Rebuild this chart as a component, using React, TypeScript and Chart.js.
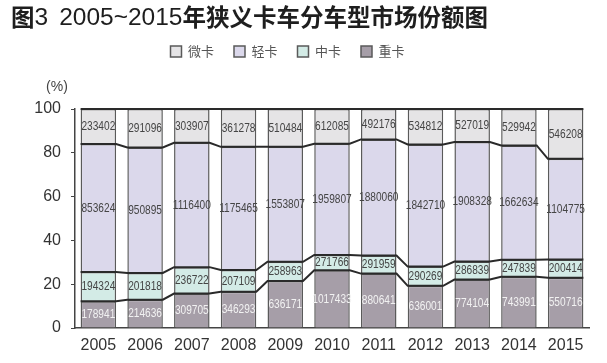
import React, { useEffect, useRef } from "react";
import { Chart, registerables } from "chart.js";
Chart.register(...registerables);

const years = ["2005", "2006", "2007", "2008", "2009", "2010", "2011", "2012", "2013", "2014", "2015"];
const micro = [233402, 291096, 303907, 361278, 510484, 612085, 492176, 534812, 527019, 529942, 546208];
const light = [853624, 950895, 1116400, 1175465, 1553807, 1959807, 1880060, 1842710, 1908328, 1662634, 1104775];
const medium = [194324, 201818, 236722, 207109, 258963, 271766, 291959, 290269, 286839, 247839, 200414];
const heavy = [178941, 214636, 309705, 346293, 636171, 1017433, 880641, 636001, 774104, 743991, 550716];
const yTicks = [0, 20, 40, 60, 80, 100];
const seriesNames = { micro: "微卡", light: "轻卡", medium: "中卡", heavy: "重卡" };
const titleParts = [
  { text: "图", cjk: true, gap: 0 },
  { text: "3", cjk: false, gap: 0 },
  { text: "2005~2015", cjk: false, gap: 11 },
  { text: "年狭义卡车分车型市场份额图", cjk: true, gap: 0 },
];
const unitText = "(%)";

const totals = years.map((_, i) => micro[i] + light[i] + medium[i] + heavy[i]);
const toPct = (arr: number[]) => arr.map((v, i) => (v / totals[i]) * 100);

const rawByDataset = [heavy, medium, light, micro];

const overlay = {
  id: "overlay",
  beforeInit(chart: any) {
    const lg = chart.legend;
    if (lg) {
      const f = lg.fit;
      lg.fit = function () {
        f.call(this);
        this.height += 41;
      };
    }
  },
  afterLayout(chart: any) {
    const lg = chart.legend;
    if (lg) {
      lg.left -= 7;
      lg.right -= 7;
    }
  },
  afterDatasetsDraw(chart: any) {
    const ctx = chart.ctx;
    chart.data.datasets.forEach((_ds: any, di: number) => {
      const meta = chart.getDatasetMeta(di);
      ctx.save();
      ctx.strokeStyle = "#2a2a2a";
      ctx.lineWidth = 2;
      ctx.beginPath();
      meta.data.forEach((el: any, i: number) => {
        const p = el.getProps(["x", "y", "width"], true);
        const l = p.x - p.width / 2;
        const r = p.x + p.width / 2;
        if (i === 0) ctx.moveTo(l, p.y);
        else ctx.lineTo(l, p.y);
        ctx.lineTo(r, p.y);
      });
      ctx.stroke();
      ctx.restore();
    });
    chart.data.datasets.forEach((_ds: any, di: number) => {
      const meta = chart.getDatasetMeta(di);
      const raw = rawByDataset[di];
      meta.data.forEach((el: any, i: number) => {
        const p = el.getProps(["x", "y", "base"], true);
        ctx.save();
        ctx.translate(p.x, (p.y + p.base) / 2);
        ctx.scale(0.75, 1);
        ctx.font = "13.5px 'Liberation Sans', Arial, sans-serif";
        ctx.textAlign = "center";
        ctx.textBaseline = "middle";
        ctx.fillStyle = di === 0 ? "#f2f2f2" : "#454545";
        ctx.fillText(String(raw[i]), 0, 0);
        ctx.restore();
      });
    });
  },
  afterDraw(chart: any) {
    const ctx = chart.ctx;
    ctx.save();
    ctx.fillStyle = "#1e1e1e";
    ctx.textAlign = "left";
    ctx.textBaseline = "middle";
    let x = 11;
    titleParts.forEach((part) => {
      x += part.gap;
      ctx.font = part.cjk
        ? "bold 23.5px 'Noto Sans CJK SC', sans-serif"
        : "24.5px 'Liberation Sans', Arial, sans-serif";
      ctx.fillText(part.text, x, part.cjk ? 17 : 18);
      x += ctx.measureText(part.text).width;
    });
    ctx.fillStyle = "#444";
    ctx.font = "14px 'Liberation Sans', Arial, sans-serif";
    ctx.textAlign = "center";
    ctx.fillText(unitText, 57, 87);
    ctx.restore();
  },
};

export default function App() {
  const ref = useRef<HTMLCanvasElement>(null);
  useEffect(() => {
    const border = "#5a5a5a";
    const chart = new Chart(ref.current as HTMLCanvasElement, {
      type: "bar",
      data: {
        labels: years,
        datasets: [
          { label: seriesNames.heavy, data: toPct(heavy), backgroundColor: "#a69ea8", borderColor: border, borderWidth: 1.5 },
          { label: seriesNames.medium, data: toPct(medium), backgroundColor: "#d3ebe6", borderColor: border, borderWidth: 1.5 },
          { label: seriesNames.light, data: toPct(light), backgroundColor: "#dbd8eb", borderColor: border, borderWidth: 1.5 },
          { label: seriesNames.micro, data: toPct(micro), backgroundColor: "#e5e4e6", borderColor: border, borderWidth: 1.5 },
        ],
      },
      options: {
        animation: false,
        responsive: true,
        maintainAspectRatio: false,
        datasets: { bar: { barPercentage: 0.76, categoryPercentage: 1 } },
        layout: { padding: { top: 25, left: 0, right: 18, bottom: 5 } },
        plugins: {
          legend: {
            reverse: true,
            labels: {
              boxWidth: 11,
              boxHeight: 11,
              padding: 20,
              color: "#555",
              font: { size: 13, family: "'Noto Sans CJK SC', sans-serif" },
            },
          },
          tooltip: { enabled: false },
          title: { display: false },
        },
        scales: {
          x: {
            stacked: true,
            afterFit: (s: any) => {
              s.height = 30;
            },
            grid: { display: false, drawTicks: false },
            border: { display: true, color: "#444", width: 1.5 },
            ticks: { padding: 8, color: "#333", font: { size: 16, family: "'Liberation Sans', Arial, sans-serif" } },
          },
          y: {
            stacked: true,
            min: 0,
            max: 100,
            afterFit: (s: any) => {
              s.width = 75;
            },
            afterBuildTicks: (s: any) => {
              s.ticks = yTicks.map((v) => ({ value: v }));
            },
            ticks: { padding: 10, color: "#333", font: { size: 16, family: "'Liberation Sans', Arial, sans-serif" } },
            grid: { drawOnChartArea: false, tickLength: 4, color: "#444" },
            border: { color: "#444", width: 1.5 },
          },
        },
      },
      plugins: [overlay],
    });
    return () => chart.destroy();
  }, []);
  return (
    <div style={{ position: "fixed", left: 0, top: 0, width: 607, height: 363, background: "#fff" }}>
      <canvas ref={ref} />
    </div>
  );
}
